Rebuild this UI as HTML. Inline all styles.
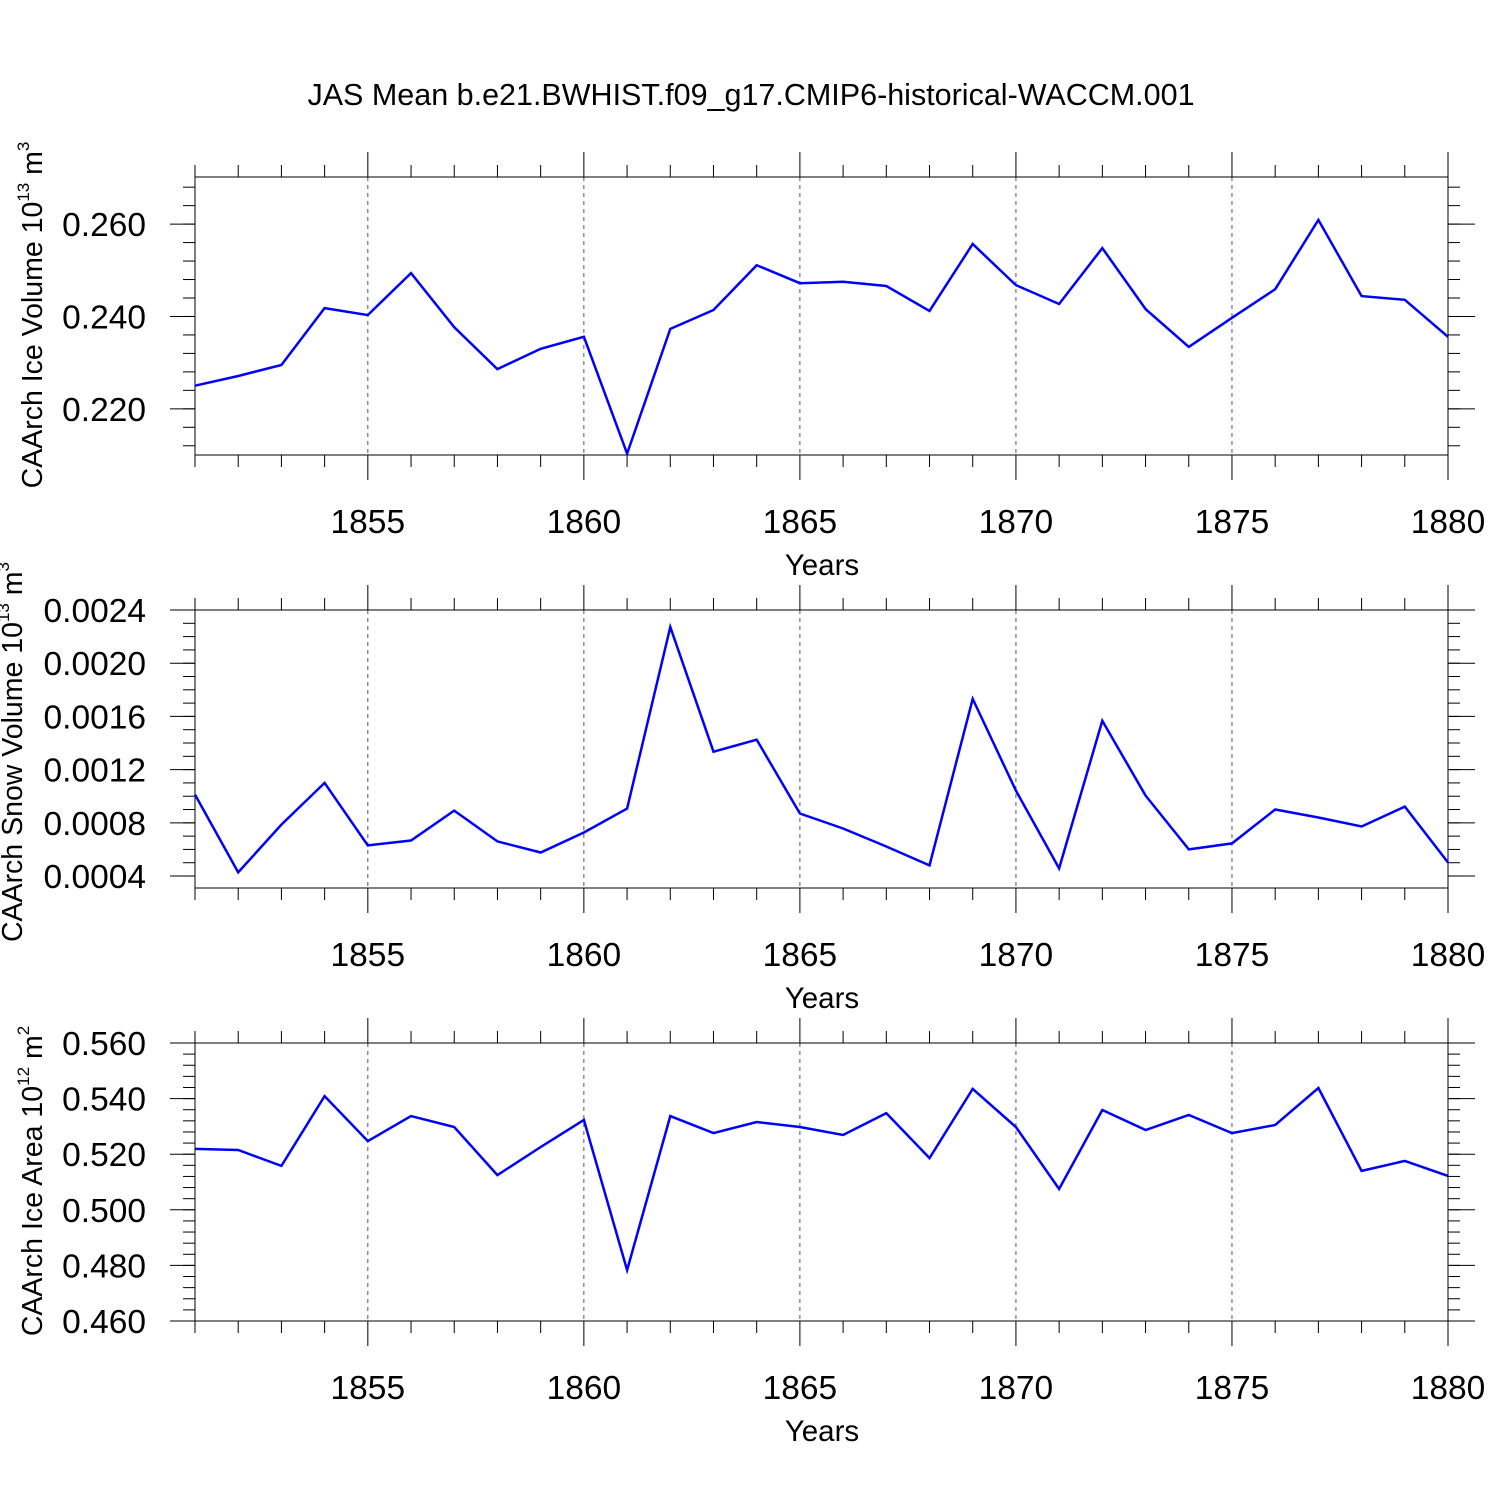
<!DOCTYPE html>
<html><head><meta charset="utf-8"><style>html,body{margin:0;padding:0;background:#fff}svg{display:block}text{font-family:"Liberation Sans",sans-serif;fill:#000}</style></head>
<body>
<svg id="chart" width="1500" height="1500" viewBox="0 0 1500 1500" xmlns="http://www.w3.org/2000/svg">
<text x="751" y="105" font-size="30.5" text-anchor="middle">JAS Mean b.e21.BWHIST.f09_g17.CMIP6-historical-WACCM.001</text>
</svg>
<script>
const years = [1851,1852,1853,1854,1855,1856,1857,1858,1859,1860,1861,1862,1863,1864,1865,1866,1867,1868,1869,1870,1871,1872,1873,1874,1875,1876,1877,1878,1879,1880];
const iceVolume = [0.2250,0.2271,0.2295,0.2418,0.2403,0.2494,0.2377,0.2286,0.2330,0.2356,0.2103,0.2373,0.2414,0.2511,0.2472,0.2475,0.2466,0.2412,0.2557,0.2468,0.2427,0.2548,0.2416,0.2334,0.2397,0.2459,0.2609,0.2444,0.2436,0.2356];
const snowVolume = [0.001012,0.000427,0.000787,0.00110,0.000630,0.000667,0.000892,0.000660,0.000577,0.000727,0.000907,0.002272,0.001335,0.001425,0.000870,0.000757,0.000622,0.000480,0.001732,0.001042,0.000457,0.001567,0.001005,0.000600,0.000645,0.000900,0.000840,0.000772,0.000922,0.000502];
const iceArea = [0.5219,0.5215,0.5158,0.5409,0.5247,0.5337,0.5298,0.5125,0.5226,0.5323,0.4783,0.5337,0.5276,0.5316,0.5298,0.5269,0.5348,0.5186,0.5435,0.5298,0.5075,0.5359,0.5287,0.5341,0.5276,0.5305,0.5438,0.5140,0.5176,0.5122];
const xTicks = [1855,1860,1865,1870,1875,1880];
const iceVolTicks = [0.220,0.240,0.260];
const iceVolTickLabels = ["0.220","0.240","0.260"];
const snowTicks = [0.0004,0.0008,0.0012,0.0016,0.0020,0.0024];
const snowTickLabels = ["0.0004","0.0008","0.0012","0.0016","0.0020","0.0024"];
const areaTicks = [0.460,0.480,0.500,0.520,0.540,0.560];
const areaTickLabels = ["0.460","0.480","0.500","0.520","0.540","0.560"];

const svg = document.getElementById('chart');
const NS = 'http://www.w3.org/2000/svg';
const X0 = 195, X1 = 1448, Y_MIN = 1851, Y_MAX = 1880;
const xs = v => X0 + (v - Y_MIN) / (Y_MAX - Y_MIN) * (X1 - X0);
function mk(tag, attrs, parent) {
  const e = document.createElementNS(NS, tag);
  for (const k in attrs) e.setAttribute(k, attrs[k]);
  (parent || svg).appendChild(e);
  return e;
}
function panel(name, top, bottom, vmin, vmax, data, ticks, labels, minorStep, labelMain, sup, unitSup, labelCx, labelCy) {
  const g = mk('g', {});
  
  
  const ys = v => bottom - (v - vmin) / (vmax - vmin) * (bottom - top);
  xTicks.forEach(t => {
    if (t === Y_MAX) return;
    const l = mk('line', {x1: xs(t), x2: xs(t), y1: top, y2: bottom, stroke: '#555', 'stroke-width': 1, 'stroke-dasharray': '4,4'}, g);
    
    
  });
  const r = mk('rect', {x: X0, y: top, width: X1 - X0, height: bottom - top, fill: 'none', stroke: '#000', 'stroke-width': 1}, g);
  
  
  for (let yr = Y_MIN; yr <= Y_MAX; yr++) {
    const major = xTicks.includes(yr);
    const len = major ? 25 : 12;
    mk('line', {x1: xs(yr), x2: xs(yr), y1: top - len, y2: top, stroke: '#000'}, g);
    mk('line', {x1: xs(yr), x2: xs(yr), y1: bottom, y2: bottom + len, stroke: '#000'}, g);
  }
  xTicks.forEach(t => {
    const tx = mk('text', {x: xs(t), y: bottom + 78, 'font-size': 33.5, 'text-anchor': 'middle'}, g);
    
    
    tx.textContent = t;
  });
  const xt = mk('text', {x: 822, y: bottom + 120, 'font-size': 29.5, 'text-anchor': 'middle'}, g);
  
  
  xt.textContent = 'Years';
  const n0 = Math.ceil(vmin / minorStep - 1e-6), n1 = Math.floor(vmax / minorStep + 1e-6);
  for (let i = n0; i <= n1; i++) {
    const y = ys(i * minorStep);
    mk('line', {x1: X0 - 12, x2: X0, y1: y, y2: y, stroke: '#000'}, g);
    mk('line', {x1: X1, x2: X1 + 12, y1: y, y2: y, stroke: '#000'}, g);
  }
  ticks.forEach((t, i) => {
    const y = ys(t);
    mk('line', {x1: X0 - 25, x2: X0, y1: y, y2: y, stroke: '#000'}, g);
    mk('line', {x1: X1, x2: X1 + 27, y1: y, y2: y, stroke: '#000'}, g);
    const tx = mk('text', {x: 146, y: y + 12, 'font-size': 33.5, 'text-anchor': 'end'}, g);
    
    
    tx.textContent = labels[i];
  });
  const yt = mk('text', {transform: `translate(${labelCx},${labelCy}) rotate(-90)`, 'font-size': 28.5, 'text-anchor': 'middle'}, g);
  
  
  yt.appendChild(document.createTextNode(labelMain + ' 10'));
  const s = mk('tspan', {'font-size': 17, dy: -13}, yt); s.textContent = sup;
  const u = mk('tspan', {dy: 13}, yt); u.textContent = ' m';
  const s2 = mk('tspan', {'font-size': 17, dy: -13}, yt); s2.textContent = unitSup;
  const pts = data.map((v, i) => xs(years[i]).toFixed(1) + ',' + ys(v).toFixed(1)).join(' ');
  const pl = mk('polyline', {points: pts, fill: 'none', stroke: '#0000ff', 'stroke-width': 2.5, 'stroke-linejoin': 'miter'}, g);
  
  
}
panel('ice-volume', 177, 455, 0.2100, 0.2702, iceVolume, iceVolTicks, iceVolTickLabels, 0.004, 'CAArch Ice Volume', '13', '3', 42, 315);
panel('snow-volume', 610, 888, 0.000310, 0.0024, snowVolume, snowTicks, snowTickLabels, 0.0001, 'CAArch Snow Volume', '13', '3', 22, 752);
panel('ice-area', 1043, 1321, 0.460, 0.560, iceArea, areaTicks, areaTickLabels, 0.004, 'CAArch Ice Area', '12', '2', 42, 1181);
</script>
</body></html>
